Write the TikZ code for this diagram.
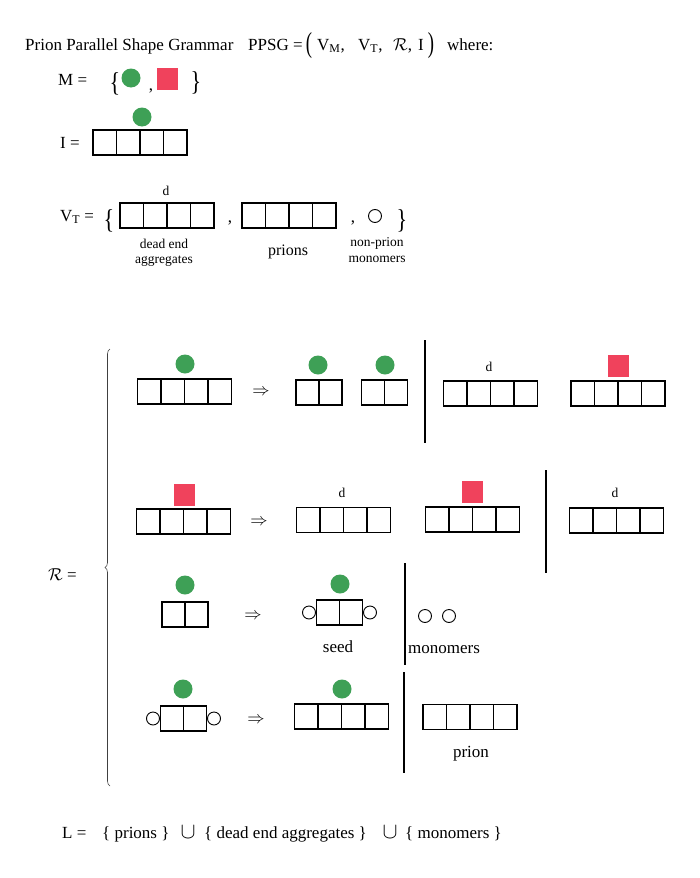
\documentclass[tikz,border=0pt]{standalone}
\usepackage{fontspec}
\setmainfont{Liberation Serif}
\usepackage{graphicx}
\usetikzlibrary{decorations.pathreplacing}
\definecolor{pgreen}{RGB}{62,160,86}
\definecolor{pred}{RGB}{240,66,92}
\begin{document}
\begin{tikzpicture}[x=1pt,y=-1pt,
  txt/.style={inner sep=0, font=\fontsize{17}{20}\selectfont},
  smalltxt/.style={inner sep=0, font=\fontsize{13.5}{15}\selectfont},
  gdot/.style={circle, fill=pgreen, minimum size=19pt, inner sep=0},
  rsq/.style={rectangle, fill=pred, minimum width=21pt, minimum height=22pt, inner sep=0},
  mono/.style={circle, draw, line width=0.9pt, minimum size=13pt, inner sep=0},
  cellsfour/.style={draw, line width=1.1pt, minimum width=94pt, minimum height=25pt, inner sep=0,
    path picture={\foreach \k in {1,2,3}{\draw[line width=1.1pt] ([xshift=\k*23.5pt]path picture bounding box.south west) -- ([xshift=\k*23.5pt]path picture bounding box.north west);}}},
  cellstwo/.style={draw, line width=1.1pt, minimum width=46pt, minimum height=25pt, inner sep=0,
    path picture={\draw[line width=1.1pt] ([xshift=23pt]path picture bounding box.south west) -- ([xshift=23pt]path picture bounding box.north west);}},
  sepbar/.style={line width=2.4pt},
  arrowtxt/.style={inner sep=0, font=\fontsize{17}{20}\selectfont}
]
\useasboundingbox (0,0) rectangle (700,878);
\fill[white] (0,0) rectangle (700,878);

% ---------- header ----------
\node[txt, anchor=base west] (title) at (25,50) {Prion Parallel Shape Grammar};
\node[txt, anchor=base west] (ppsg) at (248,50) {PPSG =};
\node[txt] (lpar) at (309,46) {\scalebox{1.1}[1.7]{(}};
\node[txt, anchor=base west] (vm) at (317,50) {V\textsubscript{M},};
\node[txt, anchor=base west] (vt) at (358,50) {V\textsubscript{T},};
\node[txt, anchor=base west] (rr) at (393,50) {$\mathcal{R}$,};
\node[txt, anchor=base west] (ii) at (418,50) {I};
\node[txt] (rpar) at (431,46) {\scalebox{1.1}[1.7]{)}};
\node[txt, anchor=base west] (where) at (447,50) {where:};

% ---------- M ----------
\node[txt, anchor=base west] (mlab) at (58,85) {M =};
\node[txt] (mlb) at (115,83.5) {\scalebox{1.3}[1.6]{\{}};
\node[gdot] (mg) at (131,78) {};
\node[txt, anchor=base] (mcomma) at (151,90) {,};
\node[rsq] (mr) at (167.5,79) {};
\node[txt] (mrb) at (196,83) {\scalebox{1.3}[1.6]{\}}};

% ---------- I ----------
\node[txt, anchor=base west] (ilab) at (60,148) {I =};
\node[cellsfour] (ibox) at (140,142.5) {};
\node[gdot] (ig) at (142,117) {};

% ---------- V_T ----------
\node[txt, anchor=base west] (vtlab) at (60,221) {V\textsubscript{T} =};
\node[txt] (vlb) at (109,220.5) {\scalebox{1.3}[1.6]{\{}};
\node[cellsfour] (vbox1) at (167,215.5) {};
\node[smalltxt, anchor=base] (vd) at (166,195) {d};
\node[txt, anchor=base] (vc1) at (230,222) {,};
\node[cellsfour] (vbox2) at (289,215.5) {};
\node[txt, anchor=base] (vc2) at (353,222) {,};
\node[mono] (vmono) at (375,216) {};
\node[txt] (vrb) at (402,220.5) {\scalebox{1.3}[1.6]{\}}};
\node[smalltxt, anchor=base] (lab1a) at (164,248) {dead end};
\node[smalltxt, anchor=base] (lab1b) at (164,263) {aggregates};
\node[txt, anchor=base, font=\fontsize{16}{18}\selectfont] (lab2) at (288,255.5) {prions};
\node[smalltxt, anchor=base] (lab3a) at (377,246) {non-prion};
\node[smalltxt, anchor=base] (lab3b) at (377,262.5) {monomers};

% ---------- R = and brace ----------
\node[txt, anchor=base west] (rlab) at (48,580) {$\mathcal{R}$ =};
\coordinate (brb) at (110,786);
\coordinate (brt) at (110,349);
\draw[decorate, decoration={brace, amplitude=5pt}, line width=0.6pt, draw=black!75] (brb) -- (brt);

% ---------- rule 1 ----------
\node[cellsfour] (r1a) at (184.5,391.5) {};
\node[gdot] (r1ag) at (185,364) {};
\node[arrowtxt] (r1arr) at (261,392) {$\Rightarrow$};
\node[cellstwo] (r1b) at (319,392.5) {};
\node[gdot] (r1bg) at (318,365) {};
\node[cellstwo] (r1c) at (384.5,392.5) {};
\node[gdot] (r1cg) at (385,365) {};
\coordinate (b1t) at (425,340);
\coordinate (b1b) at (425,443);
\draw[sepbar] (b1t) -- (b1b);
\node[cellsfour] (r1d) at (490.5,393.5) {};
\node[smalltxt] (r1dd) at (489,367) {d};
\node[cellsfour] (r1e) at (618,393.5) {};
\node[rsq] (r1er) at (618.5,366) {};

% ---------- rule 2 ----------
\node[cellsfour] (r2a) at (183.5,521.5) {};
\node[rsq] (r2ar) at (184,495) {};
\node[arrowtxt] (r2arr) at (259,522) {$\Rightarrow$};
\node[cellsfour] (r2b) at (343.5,520) {};
\node[smalltxt] (r2bd) at (342,493) {d};
\node[cellsfour] (r2c) at (472.5,519.5) {};
\node[rsq] (r2cr) at (472.5,492) {};
\coordinate (b2t) at (546,470);
\coordinate (b2b) at (546,573);
\draw[sepbar] (b2t) -- (b2b);
\node[cellsfour] (r2d) at (616.5,520.5) {};
\node[smalltxt] (r2dd) at (615,493) {d};

% ---------- rule 3 ----------
\node[cellstwo] (r3a) at (185,614.5) {};
\node[gdot] (r3ag) at (185,585) {};
\node[arrowtxt] (r3arr) at (253,616) {$\Rightarrow$};
\node[cellstwo] (r3b) at (339.5,612.5) {};
\node[gdot] (r3bg) at (340,584) {};
\node[mono, anchor=east] (r3bl) at (r3b.west) {};
\node[mono, anchor=west] (r3br) at (r3b.east) {};
\node[txt, anchor=base] (seed) at (338,652) {seed};
\coordinate (b3t) at (405,563);
\coordinate (b3b) at (405,665);
\draw[sepbar] (b3t) -- (b3b);
\node[mono] (r3m1) at (425,616) {};
\node[mono] (r3m2) at (449,616) {};
\node[txt, anchor=base west] (monomers) at (408,653) {monomers};

% ---------- rule 4 ----------
\node[cellstwo] (r4a) at (183.5,718.5) {};
\node[gdot] (r4ag) at (183,689) {};
\node[mono, anchor=east] (r4al) at (r4a.west) {};
\node[mono, anchor=west] (r4ar) at (r4a.east) {};
\node[arrowtxt] (r4arr) at (256,720) {$\Rightarrow$};
\node[cellsfour] (r4b) at (341.5,716.5) {};
\node[gdot] (r4bg) at (342,689) {};
\coordinate (b4t) at (404,672);
\coordinate (b4b) at (404,773);
\draw[sepbar] (b4t) -- (b4b);
\node[cellsfour] (r4c) at (470,717) {};
\node[txt, anchor=base] (prion) at (471,757) {prion};

% ---------- L ----------
\node[txt, anchor=base west] (llab) at (62,838) {L =};
\node[txt, anchor=base west] (lp) at (102,838) {\{ prions \}};
\node[txt, anchor=base] (u1) at (188,838) {\scalebox{1.3}{$\cup$}};
\node[txt, anchor=base west] (ld) at (204,838) {\{ dead end aggregates \}};
\node[txt, anchor=base] (u2) at (390,838) {\scalebox{1.3}{$\cup$}};
\node[txt, anchor=base west] (lm) at (405,838) {\{ monomers \}};
\end{tikzpicture}
\end{document}
